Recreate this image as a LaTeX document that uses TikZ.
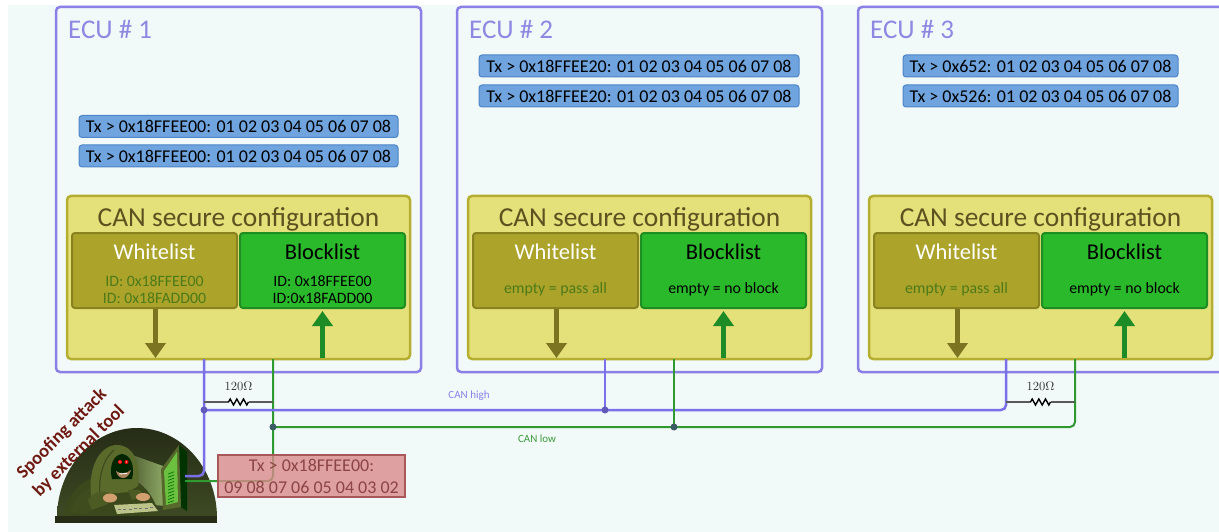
\documentclass[tikz,border=0pt]{standalone}
\usepackage{fontspec}
\setmainfont{Carlito}
\newfontfamily\lmserif{lmroman10-regular.otf}
\usetikzlibrary{arrows.meta}

\definecolor{pagebg}{HTML}{F2FAF9}
\definecolor{eculine}{HTML}{8A80E6}
\definecolor{ecutext}{HTML}{8F88E2}
\definecolor{txfill}{HTML}{6FA4DE}
\definecolor{txline}{HTML}{4E84C8}
\definecolor{cfgfill}{HTML}{E4E07A}
\definecolor{cfgline}{HTML}{B5AE30}
\definecolor{cfgtext}{HTML}{5C5220}
\definecolor{wlfill}{HTML}{ABA32A}
\definecolor{wlline}{HTML}{8A821E}
\definecolor{wltext}{HTML}{4D7A18}
\definecolor{blfill}{HTML}{2BB92C}
\definecolor{blline}{HTML}{1E8E22}
\definecolor{downcol}{HTML}{7C7420}
\definecolor{upcol}{HTML}{1D8C26}
\definecolor{canhigh}{HTML}{7A70EA}
\definecolor{canlow}{HTML}{2E9A30}
\definecolor{canhightext}{HTML}{8A80E8}
\definecolor{canlowtext}{HTML}{3A9A3A}
\definecolor{resgrey}{HTML}{5A5A5A}
\definecolor{spooffill}{HTML}{D98A8A}
\definecolor{spoofline}{HTML}{A85858}
\definecolor{spooftext}{HTML}{8C4444}
\definecolor{attacktext}{HTML}{6E1A12}
\definecolor{domedark}{HTML}{262C16}
\definecolor{domelight}{HTML}{3E4A24}
\definecolor{hoodcol}{HTML}{5A6A2A}
\definecolor{hoodshade}{HTML}{3E4C1E}
\definecolor{bodycol}{HTML}{3A481C}
\definecolor{glowcol}{HTML}{9CB870}
\definecolor{screencol}{HTML}{6CC040}
\definecolor{framecol}{HTML}{56682C}
\definecolor{skin}{HTML}{D2A070}
\definecolor{keycol}{HTML}{BCC48A}

\tikzset{
  ecubox/.style={draw=eculine, line width=2.5pt, rounded corners=4pt, fill=pagebg,
    minimum width=365pt, minimum height=365pt, inner sep=0pt},
  ecutitle/.style={text=ecutext, font=\fontsize{27}{32}\selectfont, anchor=west, inner sep=0pt},
  txbox/.style={draw=txline, fill=txfill, rounded corners=3pt, line width=1pt,
    font=\fontsize{18}{20}\selectfont, inner sep=0pt, minimum height=22pt, text=black},
  cfgbox/.style={draw=cfgline, fill=cfgfill, line width=2.5pt, rounded corners=4pt,
    minimum width=343pt, minimum height=163pt, inner sep=0pt},
  cfgtitle/.style={text=cfgtext, font=\fontsize{27.4}{31}\selectfont, inner sep=0pt},
  wlbox/.style={draw=wlline, fill=wlfill, line width=2pt, rounded corners=3pt,
    minimum width=165pt, minimum height=75pt, inner sep=0pt},
  blbox/.style={draw=blline, fill=blfill, line width=2pt, rounded corners=3pt,
    minimum width=165pt, minimum height=75pt, inner sep=0pt},
  listtitle/.style={font=\fontsize{22.5}{26}\selectfont, inner sep=0pt},
  listitem/.style={font=\fontsize{15.8}{17}\selectfont, inner sep=0pt, align=center},
  downarr/.style={draw=downcol, line width=5pt, -{Triangle[width=20pt,length=15pt]}},
  uparr/.style={draw=upcol, line width=5pt, -{Triangle[width=20pt,length=15pt]}},
  canhi/.style={draw=canhigh, line width=2.5pt, rounded corners=5pt},
  canlo/.style={draw=canlow, line width=2pt, rounded corners=5pt},
  hidot/.style={fill=canhigh!80!black, circle, inner sep=0pt, minimum size=7pt},
  lodot/.style={fill=canlow!50!canhigh!70!black, circle, inner sep=0pt, minimum size=7pt},
  reswire/.style={draw=resgrey, line width=1.6pt},
  reszig/.style={draw=black, line width=1.4pt, line join=miter},
  reslabel/.style={font=\lmserif\fontsize{12.5}{14}\selectfont, text=black!80, inner sep=0pt},
  buslabel/.style={font=\fontsize{11}{13}\selectfont, inner sep=0pt},
  spoofbox/.style={draw=spoofline, line width=1.2pt, fill=spooffill, fill opacity=0.8, text opacity=1,
    text=spooftext, font=\fontsize{18}{22}\selectfont, align=center,
    minimum width=187pt, minimum height=42pt, inner sep=0pt},
  attacklabel/.style={text=attacktext, font=\bfseries\fontsize{18.5}{23}\selectfont,
    rotate=45, inner sep=0pt}
}

\begin{document}
\begin{tikzpicture}[x=1pt,y=-1pt]
\useasboundingbox (0,0) rectangle (1219,532);
\clip (0,0) rectangle (1219,532);
\fill[white] (0,0) rectangle (1219,532);
\fill[pagebg] (8,5) rectangle (1219,532);

% the three control units with their filter configuration
\foreach \i/\cx in {1/238.5,2/639.5,3/1040.5}{
  \node[ecubox] (ecu\i) at (\cx,189.5) {};
  \node[ecutitle] (ecutitle\i) at (\cx-170.5,29) {ECU \# \i};
  \node[cfgbox] (cfg\i) at (\cx,277.5) {};
  \node[cfgtitle] (cfgtitle\i) at (\cx,219) {CAN secure configuration};
  \node[wlbox] (wl\i) at (\cx-84,270.5) {};
  \node[blbox] (bl\i) at (\cx+84,270.5) {};
  \node[listtitle, text=white] (wltitle\i) at (\cx-84,252) {Whitelist};
  \node[listtitle, text=black] (bltitle\i) at (\cx+84,252) {Blocklist};
  \coordinate (wlfoot\i) at (\cx-83,358);
  \coordinate (blfoot\i) at (\cx+84,358);
  \draw[downarr] (wl\i.south -| wlfoot\i) -- (wlfoot\i);
  \draw[uparr] (blfoot\i) -- ([yshift=-2pt]bl\i.south -| blfoot\i);
  \coordinate (hi\i) at (\cx-34.5,359);
  \coordinate (lo\i) at (\cx+34.5,359);
}

% filter list contents
\node[listitem, text=wltext] (wlids1) at (154.5,289.5) {ID: 0x18FFEE00\\ID: 0x18FADD00};
\node[listitem, text=black] (blids1) at (322.5,289.5) {ID: 0x18FFEE00\\ID:0x18FADD00};
\node[listitem, text=wltext] (wlids2) at (555.5,289) {empty = pass all};
\node[listitem, text=black] (blids2) at (723.5,289) {empty = no block};
\node[listitem, text=wltext] (wlids3) at (956.5,289) {empty = pass all};
\node[listitem, text=black] (blids3) at (1124.5,289) {empty = no block};

% transmitted frames
\node[txbox, minimum width=319pt] (tx1a) at (238.5,126.5) {Tx > 0x18FFEE00: 01 02 03 04 05 06 07 08};
\node[txbox, minimum width=319pt] (tx1b) at (238.5,156) {Tx > 0x18FFEE00: 01 02 03 04 05 06 07 08};
\node[txbox, minimum width=320pt] (tx2a) at (639,66) {Tx > 0x18FFEE20: 01 02 03 04 05 06 07 08};
\node[txbox, minimum width=320pt] (tx2b) at (639,96) {Tx > 0x18FFEE20: 01 02 03 04 05 06 07 08};
\node[txbox, minimum width=275pt] (tx3a) at (1040.5,66) {Tx > 0x652: 01 02 03 04 05 06 07 08};
\node[txbox, minimum width=275pt] (tx3b) at (1040.5,96) {Tx > 0x526: 01 02 03 04 05 06 07 08};

% attacker at the bottom left
\coordinate (hackhi) at (185,476);
\coordinate (hacklo) at (185,481);
\begin{scope}
  \shade[top color=domedark, bottom color=domelight]
    (57,518) arc[start angle=180, end angle=360, x radius=80, y radius=90] -- cycle;
  % glow of the screen falling on the figure
  \shade[left color=domelight, right color=glowcol, opacity=0.9]
    (163,466) -- (124,452) -- (118,502) -- (166,506) -- cycle;
  % body
  \fill[bodycol] (63,517) .. controls (67,494) and (82,480) .. (98,476)
    -- (134,480) .. controls (148,487) and (156,502) .. (160,517) -- cycle;
  \fill[hoodshade] (70,512) .. controls (76,496) and (86,488) .. (96,487) -- (104,500) -- (86,514) -- cycle;
  % hood
  \fill[hoodcol] (92,502) .. controls (86,470) and (99,445) .. (117,445)
    .. controls (133,445) and (141,462) .. (138,486) -- (128,492) -- (108,494) -- cycle;
  \draw[hoodshade, line width=1.2pt] (100,496) .. controls (98,476) and (104,458) .. (114,450);
  \fill[black!85!green] (112,479) .. controls (109,466) and (113,455) .. (122,454)
    .. controls (131,455) and (135,466) .. (132,479) -- cycle;
  % face
  \fill[skin!80!black] (116,471) .. controls (118,480) and (128,481) .. (131,470)
    .. controls (126,474) and (120,474) .. cycle;
  \draw[white, line width=0.9pt] (119,474) -- (127,473.5);
  \fill[red!90!black] (120,462) circle[radius=2.1];
  \fill[red!90!black] (126.5,462) circle[radius=2.1];
  \fill[red!40!white] (120,462) circle[radius=0.8];
  \fill[red!40!white] (126.5,462) circle[radius=0.8];
  % arms and hands
  \fill[hoodcol!85!black] (88,500) .. controls (95,490) and (104,490) .. (112,494) -- (108,504) -- (92,510) -- cycle;
  \fill[hoodcol!85!black] (128,490) -- (140,490) -- (144,496) -- (132,500) -- cycle;
  \fill[skin] (110,498) ellipse[x radius=7, y radius=4.5];
  \fill[skin] (143,497) ellipse[x radius=7, y radius=4];
  % keyboard
  \fill[keycol] (114,505) -- (152,503) -- (158,511) -- (117,514) -- cycle;
  \foreach \k in {0,...,6}{\draw[black!55, line width=0.6pt] (118+\k*5.3,509.5-\k*0.3) -- ++(3,0);}
  % monitor
  \fill[black!80!green] (179,445) -- (187,452) -- (187,511) -- (181,507) -- cycle;
  \fill[framecol] (161,469) -- (179,445) -- (181,507) -- (163,510) -- cycle;
  \fill[screencol] (164,471) -- (177,452) -- (178,502) -- (166,505) -- cycle;
  \foreach \k in {0,...,9}{\draw[black!55!green, line width=0.7pt] (168,474+\k*3.2) -- ++(6,-2.2);}
  % desk
  \fill[domedark] (55,516) rectangle (217,523);
\end{scope}
\node[attacklabel] (attack1) at (62,434) {Spoofing attack};
\node[attacklabel] (attack2) at (79,451) {by external tool};

% CAN bus wiring
\coordinate (taphi1) at (204,410);
\coordinate (taplo1) at (273,427);
\coordinate (taphi2) at (605,410);
\coordinate (taplo2) at (674,427);
\draw[canhi] (hi1) |- (hackhi);
\draw[canlo] (lo1) |- (hacklo);
\draw[canhi] (taphi1) -| (hi3);
\draw[canlo] (taplo1) -| (lo3);
\draw[canhi] (hi2) -- (taphi2);
\draw[canlo] (lo2) -- (taplo2);
\node[hidot] (dhi1) at (taphi1) {};
\node[hidot] (dhi2) at (taphi2) {};
\node[lodot] (dlo1) at (taplo1) {};
\node[lodot] (dlo2) at (taplo2) {};
\node[buslabel, text=canhightext] (hilabel) at (469,396) {CAN high};
\node[buslabel, text=canlowtext] (lolabel) at (537,439) {CAN low};

% termination resistors
\foreach \r/\cx in {1/238.5,3/1040.5}{
  \coordinate (ra\r) at (\cx-34.5,402);
  \coordinate (rb\r) at (\cx+34.5,402);
  \draw[reswire] (ra\r) -- (\cx-10,402);
  \draw[reswire] (\cx+10,402) -- (rb\r);
  \draw[reszig] (\cx-10,402) -- (\cx-8.33,399) -- (\cx-5,405) -- (\cx-1.67,399)
    -- (\cx+1.67,405) -- (\cx+5,399) -- (\cx+8.33,405) -- (\cx+10,402);
  \node[reslabel] (rlabel\r) at (\cx,386.5) {120Ω};
}

% forged frame from the external tool
\node[spoofbox] (spoof) at (311.5,476) {Tx > 0x18FFEE00:\\09 08 07 06 05 04 03 02};
\end{tikzpicture}
\end{document}
